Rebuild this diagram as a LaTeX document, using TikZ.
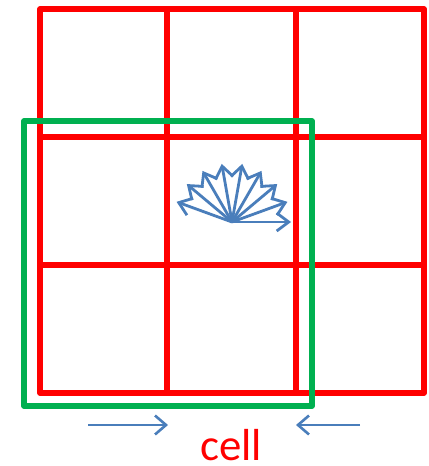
\documentclass[tikz,border=0pt]{standalone}
\usepackage{fontspec}
\setmainfont{Carlito}
\usetikzlibrary{arrows.meta}
\definecolor{gridred}{RGB}{255,0,0}
\definecolor{boxgreen}{RGB}{0,176,80}
\definecolor{arrblue}{RGB}{74,126,187}
\tikzset{
  gridline/.style={draw=gridred, line width=5.5bp, line join=round, line cap=round},
  greenbox/.style={draw=boxgreen, line width=5.5bp, line join=round},
  fanarrow/.style={draw=arrblue, line width=2.8bp, -{Straight Barb[length=12bp,width=18bp,line width=2.8bp]}},
  sidearrow/.style={draw=arrblue, line width=2.6bp, -{Straight Barb[length=11bp,width=19bp,line width=2.6bp]}}
}
\begin{document}
\begin{tikzpicture}[x=1bp,y=-1bp]
\useasboundingbox (0,0) rectangle (428,466);
% red grid
\draw[gridline] (40,9) rectangle (424,393);
\foreach \x in {167,296} \draw[gridline] (\x,9) -- (\x,393);
\foreach \y in {137,265} \draw[gridline] (40,\y) -- (424,\y);
% green window
\draw[greenbox] (24,121) rectangle (312,406);
% fan of arrows
\coordinate (o) at (232,222);
\foreach \a in {0,20,...,160} \draw[fanarrow] (o) -- ++({-\a}:59);
% bottom arrows
\coordinate (la) at (88,425);
\coordinate (lb) at (168,425);
\coordinate (ra) at (360,425);
\coordinate (rb) at (296,425);
\draw[sidearrow] (la) -- (lb);
\draw[sidearrow] (ra) -- (rb);
\node[anchor=base, text=gridred, font=\fontsize{45}{45}\selectfont, inner sep=0] (cell) at (231,460) {cell};
\end{tikzpicture}
\end{document}
